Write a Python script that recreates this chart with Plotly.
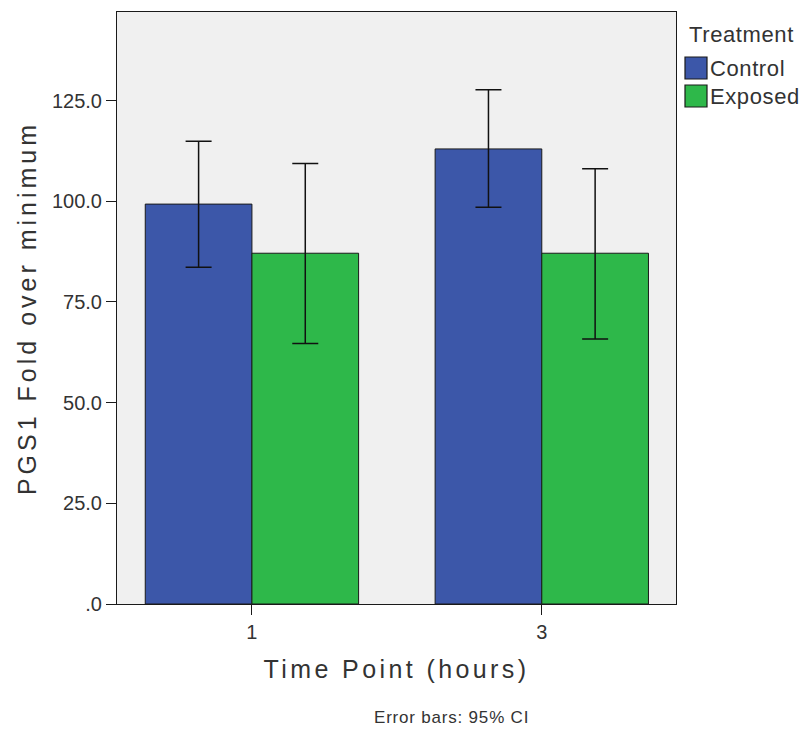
import plotly.graph_objects as go

# ---- data ----
time_points = ["1", "3"]
control_mean = [99.3, 113.0]
control_upper = [114.9, 127.7]
control_lower = [83.6, 98.5]
exposed_mean = [87.1, 87.1]
exposed_upper = [109.4, 108.1]
exposed_lower = [64.7, 65.8]
y_tick_vals = [0, 25, 50, 75, 100, 125]
y_tick_text = [".0", "25.0", "50.0", "75.0", "100.0", "125.0"]

CONTROL_COLOR = "#3C57A9"
EXPOSED_COLOR = "#2EB84A"
TEXT = "#333333"
FONT = "Liberation Sans, Arial, sans-serif"


def ls(text, px):
    return f"<span style='letter-spacing:{px}px'>{text}</span>"


def err(mean, up, lo):
    return dict(
        type="data",
        array=[u - m for u, m in zip(up, mean)],
        arrayminus=[m - l for m, l in zip(mean, lo)],
        color="#111111",
        thickness=1.5,
        width=13,
        visible=True,
    )


fig = go.Figure()
fig.add_trace(go.Bar(
    x=time_points, y=control_mean, name="Control",
    marker=dict(color=CONTROL_COLOR, line=dict(color="#1a1a1a", width=1)),
    error_y=err(control_mean, control_upper, control_lower),
))
fig.add_trace(go.Bar(
    x=time_points, y=exposed_mean, name="Exposed",
    marker=dict(color=EXPOSED_COLOR, line=dict(color="#1a1a1a", width=1)),
    error_y=err(exposed_mean, exposed_upper, exposed_lower),
))

fig.update_layout(
    width=807, height=730,
    margin=dict(l=117, r=131, t=12, b=126),
    paper_bgcolor="white",
    plot_bgcolor="#F0F0F0",
    barmode="group",
    bargap=0.264,
    bargroupgap=0,
    showlegend=False,
    font=dict(family=FONT, color=TEXT),
)

fig.update_xaxes(
    type="category",
    range=[-0.4655, 1.463],
    showline=True, mirror=True, linecolor="#1a1a1a", linewidth=1,
    ticks="outside", ticklen=10, tickcolor="#1a1a1a", tickwidth=1,
    tickfont=dict(size=20, color=TEXT),
    showgrid=False, zeroline=False,
    title=dict(text=ls("Time Point (hours)", 3.4), font=dict(size=25, color=TEXT), standoff=18),
)
fig.update_yaxes(
    range=[0, 147.0],
    tickvals=y_tick_vals, ticktext=y_tick_text,
    showline=True, mirror=True, linecolor="#1a1a1a", linewidth=1,
    ticks="outside", ticklen=10, tickcolor="#1a1a1a", tickwidth=1,
    tickfont=dict(size=20, color=TEXT),
    showgrid=False, zeroline=False,
    title=dict(text=ls("PGS1 Fold over minimum", 4), font=dict(size=25, color=TEXT), standoff=8),
)

# custom legend (swatches + labels)
legend_items = [("Control", CONTROL_COLOR), ("Exposed", EXPOSED_COLOR)]
x0_px, sw = 685, 22
for i, (label, col) in enumerate(legend_items):
    top = 57 + i * 28
    fig.add_shape(
        type="rect", xref="paper", yref="paper",
        x0=(x0_px - 117) / 559, x1=(x0_px + sw - 117) / 559,
        y0=(604 - top - sw) / 592, y1=(604 - top) / 592,
        fillcolor=col, line=dict(color="#1a1a1a", width=1.2),
    )
    fig.add_annotation(
        xref="paper", yref="paper",
        x=(x0_px + sw + 1 - 117) / 559, y=(604 - top - sw / 2) / 592,
        xanchor="left", yanchor="middle", showarrow=False,
        text=ls(label, 0.6), font=dict(size=22, color=TEXT),
    )
fig.add_annotation(
    xref="paper", yref="paper",
    x=(687 - 117) / 559, y=(604 - 35) / 592,
    xanchor="left", yanchor="middle", showarrow=False,
    text=ls("Treatment", 0.6), font=dict(size=22, color=TEXT),
)
fig.add_annotation(
    xref="paper", yref="paper",
    x=(451 - 117) / 559, y=(604 - 717) / 592,
    xanchor="center", yanchor="middle", showarrow=False,
    text=ls("Error bars: 95% CI", 0.8), font=dict(size=17, color=TEXT),
)

fig.write_html(
    "out.html",
    config={"displayModeBar": False},
    post_script="document.body.style.margin='0px';document.body.style.padding='0px';",
)
